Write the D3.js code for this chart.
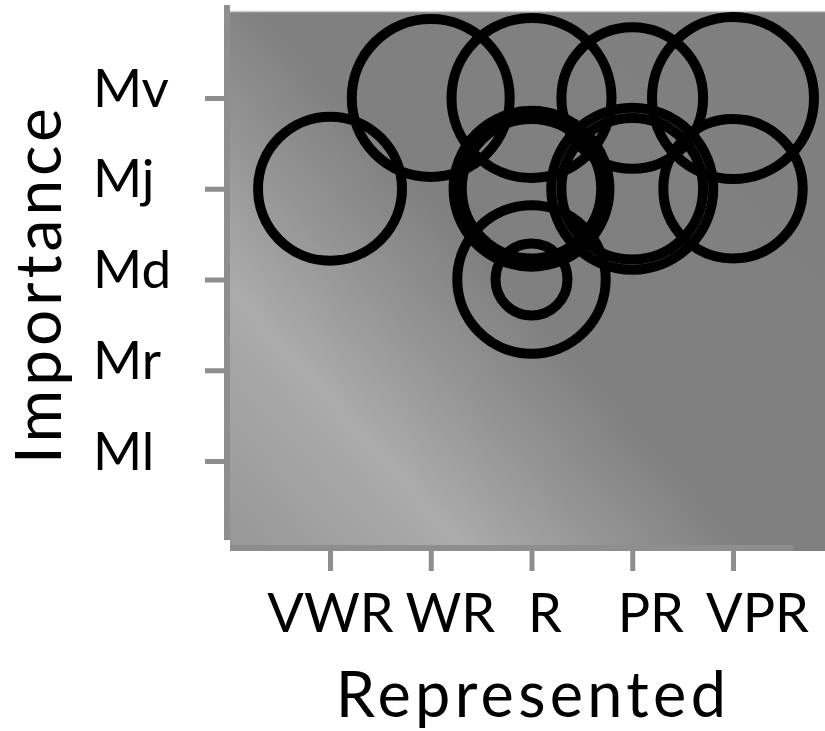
<!DOCTYPE html>
<html>
<head>
<meta charset="utf-8">
<script src="https://cdn.jsdelivr.net/npm/d3@7"></script>
<style>
  body { margin: 0; background: #fff; }
  svg text { font-family: Lato, "Open Sans", sans-serif; fill: #000; }
</style>
</head>
<body>
<svg id="chart" width="825" height="731"></svg>
<script>
// categories on both axes
const xCats = ["VWR", "WR", "R", "PR", "VPR"];
const yCats = ["Ml", "Mr", "Md", "Mj", "Mv"];

// one entry per drawn ring (x category, y category, size value)
const ringX = ["VWR", "WR", "R", "R", "R", "R", "R", "PR", "PR", "PR", "VPR", "VPR"];
const ringY = ["Mj", "Mv", "Mv", "Mj", "Mj", "Md", "Md", "Mv", "Mj", "Mj", "Mv", "Mj"];
const ringN = [64, 77, 79, 75, 60, 68, 16, 62, 81, 62, 81, 60];

// small nudges for the x labels, the original ones sit off their ticks
const xLabelShift = [0, 19, 13, 18, 24];

const svg = d3.select("#chart");

const x = d3.scalePoint().domain(xCats).range([330, 733]);
const y = d3.scalePoint().domain(yCats).range([461, 98]);
const r = d3.scaleSqrt().domain([0, 100]).range([0, 90]);

// panel background
const defs = svg.append("defs");
const grad = defs.append("linearGradient")
    .attr("id", "bg")
    .attr("gradientUnits", "userSpaceOnUse")
    .attr("x1", 230).attr("y1", 551)
    .attr("x2", 825).attr("y2", 12);
grad.append("stop").attr("offset", 0).attr("stop-color", "#979797");
grad.append("stop").attr("offset", 0.22).attr("stop-color", "#ababab");
grad.append("stop").attr("offset", 0.36).attr("stop-color", "#939393");
grad.append("stop").attr("offset", 0.48).attr("stop-color", "#808080");
grad.append("stop").attr("offset", 1).attr("stop-color", "#7f7f7f");

svg.append("rect")
    .attr("x", 230).attr("y", 12)
    .attr("width", 595).attr("height", 539)
    .attr("fill", "url(#bg)");
svg.append("line")
    .attr("x1", 230).attr("x2", 825).attr("y1", 11.5).attr("y2", 11.5)
    .attr("stroke", "#cfcfcf").attr("stroke-width", 1.5);

// axis lines
svg.append("rect").attr("x", 224).attr("y", 5).attr("width", 6).attr("height", 535).attr("fill", "#8e8e8e");
svg.append("rect").attr("x", 230).attr("y", 545).attr("width", 563).attr("height", 6).attr("fill", "#8e8e8e");

// y axis
const yAxis = svg.append("g")
    .attr("transform", "translate(224,0)")
    .call(d3.axisLeft(y).tickSize(19).tickPadding(0));
yAxis.select(".domain").remove();
yAxis.selectAll(".tick line").attr("stroke", "#8e8e8e").attr("stroke-width", 5);
yAxis.selectAll(".tick text")
    .attr("x", -131).attr("dy", 8)
    .attr("text-anchor", "start")
    .style("font-size", "53px");

// x axis
const xAxis = svg.append("g")
    .attr("transform", "translate(0,551)")
    .call(d3.axisBottom(x).tickSize(20));
xAxis.select(".domain").remove();
xAxis.selectAll(".tick line").attr("stroke", "#8e8e8e").attr("stroke-width", 5);
xAxis.selectAll(".tick text")
    .attr("y", 81).attr("dy", null)
    .attr("dx", (d, i) => xLabelShift[i])
    .style("font-size", "54px");

// rings
svg.append("g").selectAll("circle")
    .data(ringN)
    .join("circle")
    .attr("cx", (d, i) => x(ringX[i]))
    .attr("cy", (d, i) => y(ringY[i]))
    .attr("r", d => r(d))
    .attr("fill", "none")
    .attr("stroke", "#000")
    .attr("stroke-width", 10);

// axis titles
svg.append("text")
    .attr("x", 533).attr("y", 717)
    .attr("text-anchor", "middle")
    .style("font-size", "63px")
    .style("letter-spacing", "4.3px")
    .text("Represented");

svg.append("text")
    .attr("transform", "translate(61,284) rotate(-90)")
    .attr("text-anchor", "middle")
    .style("font-size", "64px")
    .style("letter-spacing", "4px")
    .text("Importance");
</script>
</body>
</html>
